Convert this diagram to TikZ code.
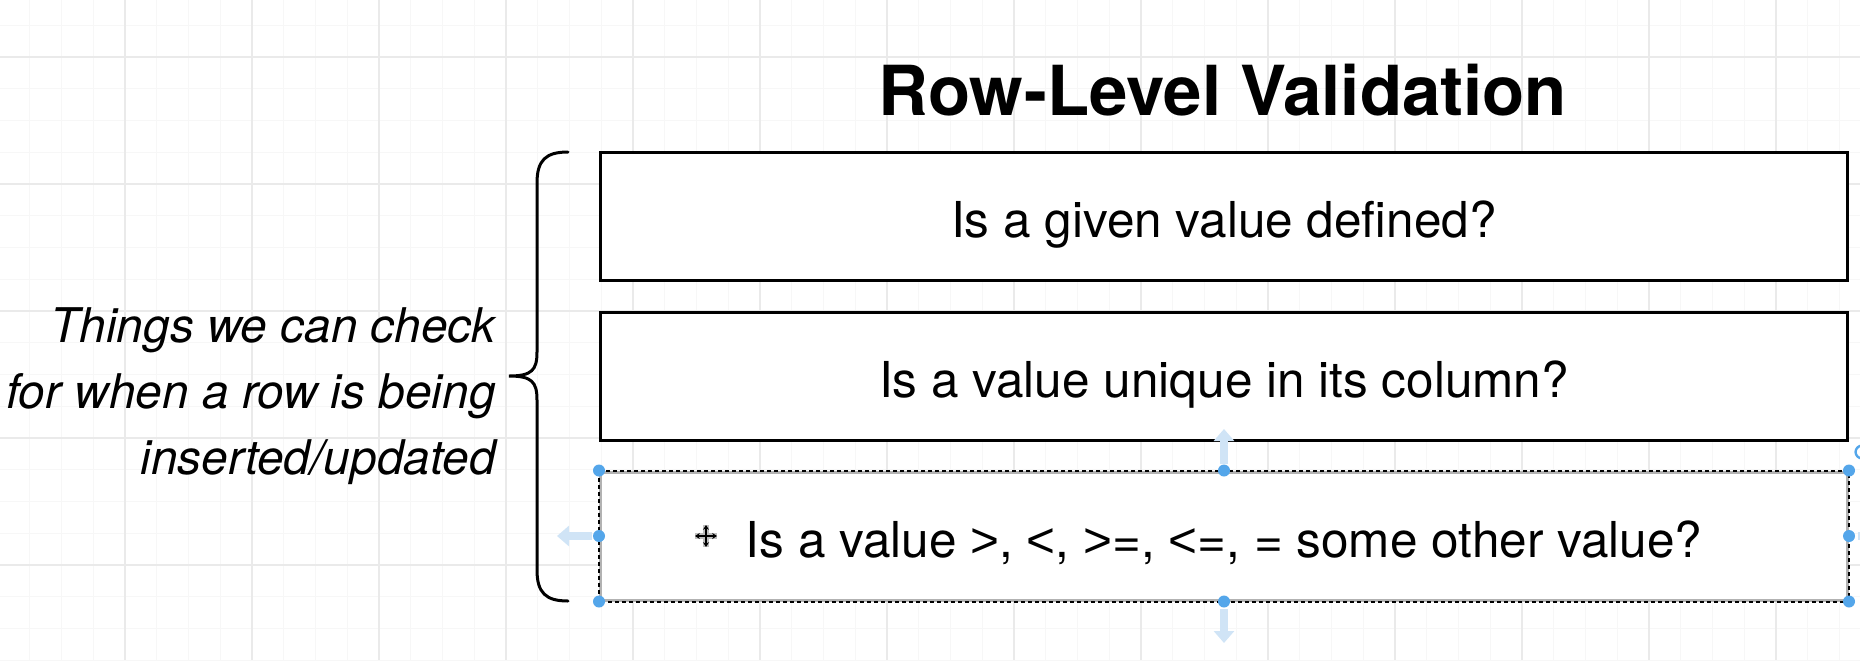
\documentclass[tikz,border=0pt]{standalone}
\usepackage{fontspec}
\setmainfont{TeX Gyre Heros}
\newfontfamily\relfont{Liberation Sans}
\newcommand\relgt{{\relfont>}}
\newcommand\rellt{{\relfont<}}
\usetikzlibrary{positioning,arrows.meta}
\definecolor{gridminor}{RGB}{247,247,247}
\definecolor{gridmajor}{RGB}{234,234,234}
\definecolor{handleblue}{RGB}{84,166,234}
\definecolor{ghostblue}{RGB}{208,228,246}
\begin{document}
\begin{tikzpicture}[x=0.5pt,y=-0.5pt,
    qbox/.style={draw,fill=white,line width=1.5pt,minimum width=623.5pt,minimum height=64pt,
        inner sep=0pt,text height=26pt,text depth=5pt,font=\fontsize{24.75}{30}\selectfont},
    selbox/.style={draw=black!30},
    seldash/.style={line width=1pt,dash pattern=on 2pt off 1.5pt},
    handle/.style={fill=handleblue},
    ghost/.style={ghostblue,line width=4pt,-{Triangle[width=10pt,length=6pt]}},
    bracepen/.style={line width=1.5pt,line cap=round}]
    \useasboundingbox (0,0) rectangle (1860,660);
    \begin{scope}
        \clip (0,0) rectangle (1860,660);
        \foreach \k in {-20,...,39} \draw[gridminor,line width=0.5pt] ({633+31.75*\k},0) -- ({633+31.75*\k},660);
        \foreach \k in {-2,...,20} \draw[gridminor,line width=0.5pt] (0,{57+31.75*\k}) -- (1860,{57+31.75*\k});
        \foreach \k in {-5,...,9} \draw[gridmajor,line width=0.6pt] ({633+127*\k},0) -- ({633+127*\k},660);
        \foreach \k in {-1,...,5} \draw[gridmajor,line width=0.6pt] (0,{57+127*\k}) -- (1860,{57+127*\k});
    \end{scope}
    \node[anchor=base,font=\bfseries\fontsize{34.5}{40}\selectfont] (title) at (1223,115) {Row-Level Validation};
    \node[qbox] (defined) at (1224,216) {Is a given value defined?};
    \node[qbox,below=14.5pt of defined] (unique) {Is a value unique in its column?};
    \node[qbox,selbox,below=14.5pt of unique] (compare) {Is a value \relgt, \rellt, \relgt=, \rellt=, = some other value?};
    \draw[seldash] (compare.north west) rectangle (compare.south east);
    \node[anchor=east,align=right,inner sep=0pt,font=\itshape\fontsize{23.9}{33}\selectfont] (note) at (496,396.5)
        {Things we can check\\for when a row is being\\inserted/updated};
    \coordinate (tip) at (509,376);
    \draw[bracepen] (568,152) .. controls (546,152) and (537,160) .. (537,183) -- (537,352)
        .. controls (537,370) and (532,376) .. (tip)
        .. controls (532,376) and (537,382) .. (537,400) -- (537,570)
        .. controls (537,593) and (546,601) .. (568,601);
    \draw[ghost] (1224,464) -- (1224,429);
    \draw[ghost] (1224,609) -- (1224,643);
    \draw[ghost] (592,536) -- (557,536);
    \draw[ghost] (1858,536) -- (1893,536);
    \foreach \a in {north west,north,north east,west,east,south west,south,south east}
        \fill[handle] (compare.\a) circle[radius=3pt];
    \draw[handleblue,line width=1.2pt] (1862,452) circle[radius=3.2pt];
    \draw[black!25,line width=3pt] (706,525) -- (706,547) (695,536) -- (717,536);
    \draw[line width=0.7pt,-{Stealth[length=2.4pt,width=3pt]}] (706,536) -- (706,525);
    \draw[line width=0.7pt,-{Stealth[length=2.4pt,width=3pt]}] (706,536) -- (706,547);
    \draw[line width=0.7pt,-{Stealth[length=2.4pt,width=3pt]}] (706,536) -- (695,536);
    \draw[line width=0.7pt,-{Stealth[length=2.4pt,width=3pt]}] (706,536) -- (717,536);
\end{tikzpicture}
\end{document}
